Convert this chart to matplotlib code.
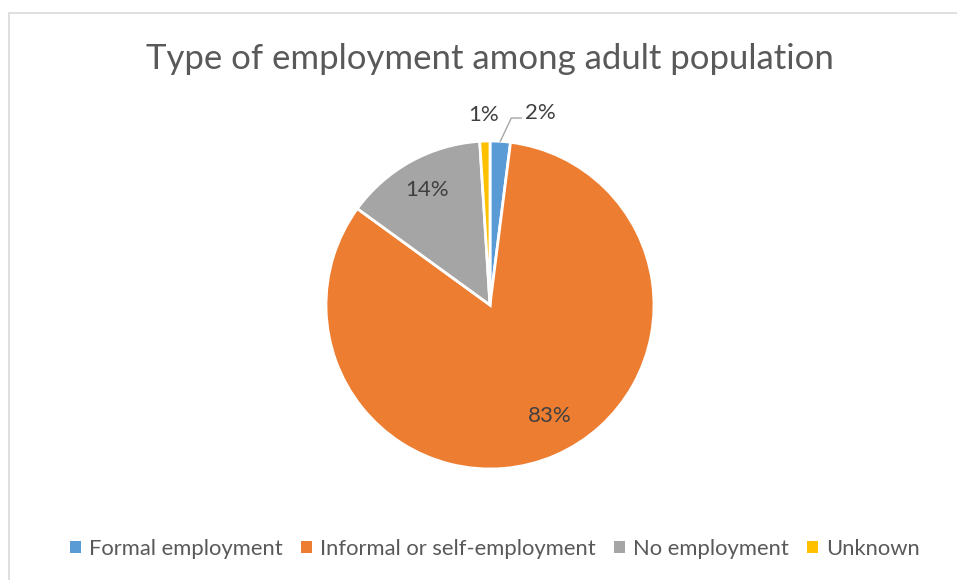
import numpy as np
import matplotlib.pyplot as plt
from matplotlib.patches import Rectangle, Patch

plt.rcParams['font.family'] = ['Lato', 'DejaVu Sans']

# data
categories = ['Formal employment', 'Informal or self-employment', 'No employment', 'Unknown']
shares = [2, 83, 14, 1]
colors = ['#5B9BD5', '#ED7D31', '#A5A5A5', '#FFC000']
text_col = '#595959'

W, H = 957, 580
fig = plt.figure(figsize=(W / 100, H / 100), dpi=100)

# chart frame
fig.patches.append(Rectangle((9 / W, -0.1), 1.2, (H - 13) / H + 0.1, transform=fig.transFigure,
                             fill=False, edgecolor='#D9D9D9', linewidth=1.2))

fig.text(490 / W, 1 - 59 / H, 'Type of employment among adult population',
         ha='center', va='center', fontsize=25, color=text_col)

# pie axes: centre (490, 305) px, radius 164 px
r = 164
ax = fig.add_axes([(490 - r) / W, (H - 305 - r) / H, 2 * r / W, 2 * r / H])
wedges, _ = ax.pie(shares, colors=colors, startangle=90, counterclock=False,
                   wedgeprops=dict(edgecolor='white', linewidth=2))
ax.set_xlim(-1, 1)
ax.set_ylim(-1, 1)
ax.set_aspect('equal')
ax.axis('off')

lab_size = 16
for w, v, name in zip(wedges, shares, categories):
    mid = (w.theta1 + w.theta2) / 2
    lab = f'{v}%'
    if v >= 10:
        # inside labels (best-fit style)
        if v > 50:
            d, ang = 0.77, np.deg2rad(mid + 5)
        else:
            d, ang = 0.80, np.deg2rad(mid)
        ax.text(d * np.cos(ang), d * np.sin(ang), lab, ha='center', va='center',
                fontsize=lab_size, color='#404040')
    elif name == 'Unknown':
        ax.text(-0.04, 1.16, lab, ha='center', va='center', fontsize=lab_size, color='#404040')
    else:
        x0, y0 = np.cos(np.deg2rad(mid)), np.sin(np.deg2rad(mid))
        ax.plot([x0, 0.13, 0.19], [y0, 1.14, 1.14], color='#A6A6A6', lw=1, clip_on=False)
        ax.text(0.31, 1.17, lab, ha='center', va='center', fontsize=lab_size, color='#404040')

handles = [Patch(facecolor=c, edgecolor='none') for c in colors]
fig.legend(handles, categories, loc='center', bbox_to_anchor=(495 / W, 1 - 549 / H), ncol=4,
           frameon=False, fontsize=15.8, labelcolor=text_col, handlelength=0.5, handleheight=0.5,
           handletextpad=0.35, columnspacing=0.85)

fig.savefig('out.png', dpi=100)
